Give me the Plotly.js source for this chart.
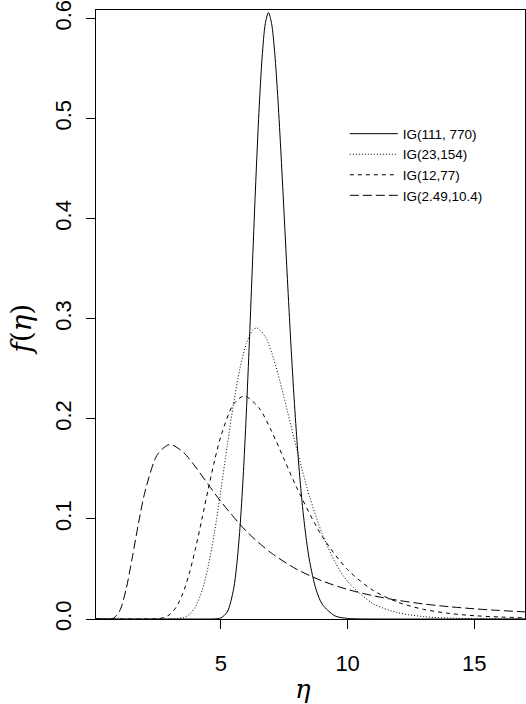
<!DOCTYPE html>
<html>
<head>
<meta charset="utf-8">
<script src="https://cdn.plot.ly/plotly-3.0.1.min.js"></script>
<style>html,body{margin:0;padding:0;background:#fff;}#chart{width:526px;height:704px;}</style>
</head>
<body>
<div id="chart"></div>
<script>
// Series names (legend)
const seriesNames = ["IG(111, 770)", "IG(23,154)", "IG(12,77)", "IG(2.49,10.4)"];

// IG(111, 770)
const etaA = [0.07, 4.0, 4.5, 4.75, 5.0, 5.25, 5.5, 5.625, 5.75, 5.875, 6.0, 6.125, 6.25, 6.375, 6.5, 6.625, 6.75, 6.875, 7.0, 7.125, 7.25, 7.375, 7.5, 7.625, 7.75, 7.875, 8.0, 8.125, 8.25, 8.375, 8.5, 8.75, 9.0, 9.5, 10.0, 10.5, 11.0, 17.0];
const fA   = [0, 0, 0.00001, 0.0001, 0.0011, 0.0070, 0.0299, 0.0542, 0.0907, 0.1409, 0.2045, 0.2786, 0.3585, 0.437, 0.5064, 0.561, 0.5947, 0.606, 0.595, 0.565, 0.519, 0.4626, 0.4014, 0.339, 0.2798, 0.2256, 0.1782, 0.1381, 0.105, 0.0785, 0.0577, 0.0299, 0.0147, 0.0031, 0.0006, 0.0001, 0, 0];

// IG(23,154)
const etaB = [0.07, 2.5, 3.0, 3.5, 3.75, 4.0, 4.25, 4.5, 4.75, 5.0, 5.25, 5.5, 5.75, 6.0, 6.25, 6.42, 6.75, 7.0, 7.25, 7.5, 8.0, 8.5, 9.0, 9.5, 10.0, 11.0, 12.0, 13.0, 14.0, 15.0, 16.0, 17.0];
const fB   = [0, 0, 0.00003, 0.00124, 0.00446, 0.0124, 0.0278, 0.0528, 0.0873, 0.129, 0.1734, 0.2154, 0.2503, 0.275, 0.2885, 0.2908, 0.2822, 0.2663, 0.2451, 0.2204, 0.169, 0.1223, 0.0849, 0.0571, 0.0375, 0.0154, 0.00615, 0.00241, 0.00095, 0.00038, 0.00018, 0.0001];

// IG(12,77)
const etaC = [0.07, 2.0, 2.5, 2.75, 3.0, 3.25, 3.5, 3.75, 4.0, 4.25, 4.5, 4.75, 5.0, 5.5, 5.92, 6.5, 7.0, 7.5, 8.0, 9.0, 10.0, 11.0, 12.0, 13.0, 14.0, 15.0, 16.0, 17.0];
const fC   = [0, 0.00001, 0.00031, 0.00146, 0.00487, 0.0124, 0.0257, 0.0454, 0.0708, 0.0998, 0.130, 0.1583, 0.1828, 0.2147, 0.2228, 0.211, 0.1876, 0.1592, 0.1308, 0.0824, 0.0493, 0.0287, 0.0166, 0.0096, 0.0056, 0.0033, 0.0020, 0.0012];

// IG(2.49,10.4)
const etaD = [0.07, 0.5, 0.75, 1.0, 1.25, 1.5, 1.75, 2.0, 2.5, 2.98, 3.5, 4.0, 4.5, 5.0, 6.0, 7.0, 8.0, 9.0, 10.0, 11.0, 12.0, 13.0, 14.0, 15.0, 16.0, 17.0];
const fD   = [0, 0, 0.00067, 0.00786, 0.0289, 0.0611, 0.0961, 0.1268, 0.1646, 0.1743, 0.167, 0.1519, 0.1344, 0.1173, 0.0878, 0.0657, 0.0496, 0.0380, 0.0295, 0.0233, 0.0186, 0.0150, 0.0123, 0.0102, 0.0085, 0.0071];

// Axis ticks
const xTicks = [5, 10, 15];
const yTicks = [0.0, 0.1, 0.2, 0.3, 0.4, 0.5, 0.6];

const dashes = ["solid", "1px,2px", "4px,4px", "9px,4px"];
const xs = [etaA, etaB, etaC, etaD];
const ys = [fA, fB, fC, fD];

const traces = seriesNames.map((n, i) => ({
  type: "scatter", mode: "lines", name: n,
  x: xs[i], y: ys[i],
  line: {color: "#000", width: 1, dash: dashes[i], shape: "spline", smoothing: 0.8}
}));

const tickFont = {family: "Liberation Sans, Arial, sans-serif", size: 22, color: "#000"};

const layout = {
  width: 526, height: 704,
  margin: {l: 96, r: 1, t: 10, b: 85, pad: 0},
  paper_bgcolor: "#fff", plot_bgcolor: "#fff",
  showlegend: true,
  legend: {
    x: 0.58, y: 0.822, xanchor: "left", yanchor: "top",
    bgcolor: "rgba(0,0,0,0)", borderwidth: 0,
    font: {family: "Liberation Sans, Arial, sans-serif", size: 13.5, color: "#000"},
    itemwidth: 48, tracegroupgap: 0
  },
  xaxis: {
    range: [0.07, 17.0], showgrid: false, zeroline: false,
    showline: true, linecolor: "#000", linewidth: 1, mirror: true,
    tickmode: "array", tickvals: xTicks, ticktext: xTicks.map(String),
    ticks: "outside", ticklen: 9, tickcolor: "#000", tickwidth: 1,
    tickfont: tickFont, ticklabelstandoff: 16
  },
  yaxis: {
    range: [0, 0.6085], showgrid: false, zeroline: false,
    showline: true, linecolor: "#000", linewidth: 1, mirror: true,
    tickmode: "array", tickvals: yTicks, ticktext: yTicks.map(v => v.toFixed(1)),
    ticks: "outside", ticklen: 9, tickcolor: "#000", tickwidth: 1,
    tickfont: tickFont, tickangle: -90, ticklabelstandoff: 6,
    ticklabeloverflow: "allow"
  },
  annotations: [
    {text: "<i>f</i>(<i>η</i>)", xref: "paper", yref: "paper", x: 0, y: 0.475,
     xanchor: "center", yanchor: "middle", xshift: -74, textangle: -90, showarrow: false,
     font: {family: "DejaVu Serif, Liberation Serif, serif", size: 28, color: "#000"}},
    {text: "<i>η</i>", xref: "paper", yref: "paper", x: 0.5, y: 0,
     xanchor: "center", yanchor: "middle", xshift: -8, yshift: -70, showarrow: false,
     font: {family: "DejaVu Serif, Liberation Serif, serif", size: 26, color: "#000"}}
  ]
};

Plotly.newPlot("chart", traces, layout, {displayModeBar: false, staticPlot: true});
</script>
</body>
</html>
